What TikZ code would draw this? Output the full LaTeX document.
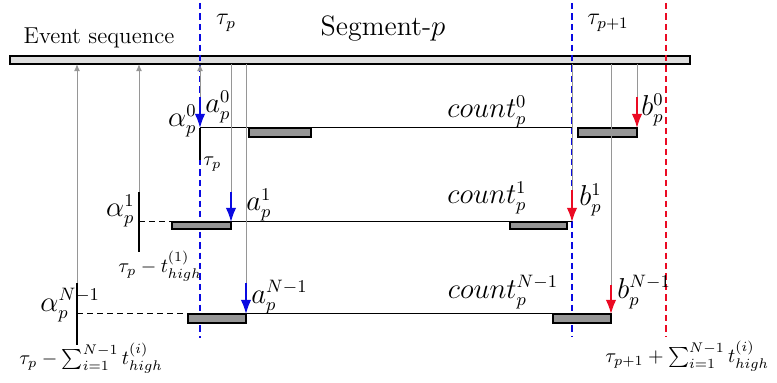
\documentclass[tikz,border=0pt]{standalone}
\usepackage{amsmath,amssymb}
\usepackage{tikz}
\usetikzlibrary{arrows.meta,positioning,calc}
\definecolor{evgray}{RGB}{222,222,222}
\definecolor{cntgray}{RGB}{150,150,150}
\definecolor{tblue}{RGB}{10,10,225}
\definecolor{tred}{RGB}{235,10,35}
\definecolor{lgray}{RGB}{150,150,150}
\tikzset{
  evbar/.style={draw=black, fill=evgray, line width=0.8pt},
  bnd/.style={line width=1.2pt, dash pattern=on 3.2pt off 2pt},
  upar/.style={-{Latex[length=3.6pt,width=3pt]}, lgray, line width=0.5pt},
  dnln/.style={lgray, line width=0.5pt},
  aarr/.style={-{Latex[length=7pt,width=5.2pt]}, tblue, line width=0.8pt},
  barr/.style={-{Latex[length=7pt,width=5.2pt]}, tred, line width=0.8pt},
  lvl/.style={black, line width=0.5pt},
  lvld/.style={black, line width=0.5pt, dash pattern=on 3pt off 2pt},
  cnt/.style={draw=black, fill=cntgray, line width=0.8pt},
  wbar/.style={black, line width=1.4pt},
  mlab/.style={font=\fontsize{13.5}{15}\selectfont, inner sep=1pt},
  tlab/.style={font=\fontsize{11.5}{13}\selectfont, inner sep=1pt},
  slab/.style={font=\fontsize{10}{12}\selectfont, inner sep=1pt},
}

\begin{document}
\begin{tikzpicture}[x=0.5pt, y=-0.5pt]
  \useasboundingbox (0,0) rectangle (777,383);
  % event sequence
  \draw[evbar] (10,56) rectangle (690,64);
  \coordinate (sq) at (0,64);
  \node[tlab] (evlab) at (99,38) {Event sequence};
  \node[mlab, font=\fontsize{14}{16}\selectfont] (seglab) at (383,29) {Segment-$p$};
  % segment borders
  \coordinate (tpA) at (200,3);   \coordinate (tpB) at (200,338);
  \coordinate (tqA) at (572,3);   \coordinate (tqB) at (572,337);
  \coordinate (trA) at (666,3);   \coordinate (trB) at (666,337);
  \draw[bnd, tblue] (tpA) -- (tpB);
  \draw[bnd, tblue] (tqA) -- (tqB);
  \draw[bnd, tred] (trA) -- (trB);
  \node[tlab] (taup) at (226,23) {$\tau_p$};
  \node[tlab] (taup1) at (608,23) {$\tau_{p+1}$};

  % level 0
  \coordinate (w0) at (200,128); \coordinate (w0e) at (200,160);
  \coordinate (e0) at (572,128);
  \coordinate (a0) at (200,97);  \coordinate (b0) at (637,97);
  \coordinate (b0e) at (637,128);
  \draw[wbar] (w0) -- (w0e);
  \draw[lvl] (w0) -- (e0);
  \draw[cnt] (249,128) rectangle (311,137);
  \draw[cnt] (578,128) rectangle (637,137);
  \draw[upar] (a0) -- (a0 |- sq);
  \draw[aarr] (a0) -- (w0);
  \draw[dnln] (b0 |- sq) -- (b0);
  \draw[barr] (b0) -- (b0e);
  \node[mlab, anchor=east] (al0) at (199,121) {$\alpha_p^0$};
  \node[mlab, anchor=west] (as0) at (203,107) {$a_p^0$};
  \node[slab, anchor=west] (tw0) at (201,164) {$\tau_p$};
  \node[mlab] (cn0) at (487,112) {$count_p^0$};
  \node[mlab, anchor=west] (bs0) at (639,110) {$b_p^0$};

  % level 1
  \coordinate (w1) at (139,222); \coordinate (w1a) at (139,192);
  \coordinate (w1e) at (139,252);
  \coordinate (e1) at (572,222);
  \coordinate (a1) at (231,192); \coordinate (a1e) at (231,222);
  \coordinate (b1) at (572,190);
  \draw[wbar] (w1a) -- (w1e);
  \draw[lvld] (w1) -- (172,222);
  \draw[lvl] (a1e) -- (e1);
  \draw[cnt] (172,222) rectangle (231,229);
  \draw[cnt] (510,222) rectangle (567,229);
  \draw[upar] (w1a) -- (w1a |- sq);
  \draw[dnln] (a1 |- sq) -- (a1);
  \draw[aarr] (a1) -- (a1e);
  \draw[dnln] (b1 |- sq) -- (b1);
  \draw[barr] (b1) -- (e1);
  \node[mlab, anchor=east] (al1) at (137,211) {$\alpha_p^1$};
  \node[mlab, anchor=west] (as1) at (244,205) {$a_p^1$};
  \node[slab] (tw1) at (160,266) {$\tau_p - t_{high}^{(1)}$};
  \node[mlab] (cn1) at (487,198) {$count_p^1$};
  \node[mlab, anchor=west] (bs1) at (577,200) {$b_p^1$};

  % level N-1
  \coordinate (w2) at (77,314); \coordinate (w2a) at (77,283);
  \coordinate (w2e) at (77,345);
  \coordinate (a2) at (246,283); \coordinate (a2e) at (246,314);
  \coordinate (e2) at (553,314);
  \coordinate (b2) at (611,285); \coordinate (b2e) at (611,314);
  \draw[wbar] (w2a) -- (w2e);
  \draw[cnt] (188,314) rectangle (246,323);
  \draw[lvld] (w2) -- (a2e);
  \draw[lvl] (a2e) -- (e2);
  \draw[cnt] (553,314) rectangle (611,323);
  \draw[upar] (w2a) -- (w2a |- sq);
  \draw[dnln] (a2 |- sq) -- (a2);
  \draw[aarr] (a2) -- (a2e);
  \draw[dnln] (b2 |- sq) -- (b2);
  \draw[barr] (b2) -- (b2e);
  \node[mlab, anchor=west] (al2) at (38,305) {$\alpha_p^{N-1}$};
  \node[mlab, anchor=west] (as2) at (249,297) {$a_p^{N-1}$};
  \node[slab, anchor=west] (tw2) at (17,358) {$\tau_p - \sum_{i=1}^{N-1} t_{high}^{(i)}$};
  \node[mlab] (cn2) at (503,292) {$count_p^{N-1}$};
  \node[mlab, anchor=west] (bs2) at (615,292) {$b_p^{N-1}$};
  \node[slab, anchor=west] (te2) at (603,356) {$\tau_{p+1} + \sum_{i=1}^{N-1} t_{high}^{(i)}$};
\end{tikzpicture}
\end{document}
